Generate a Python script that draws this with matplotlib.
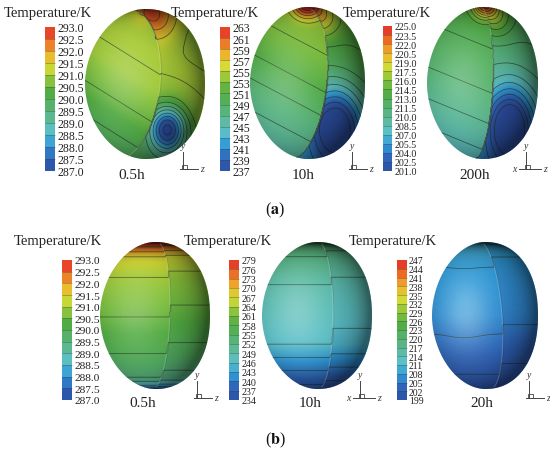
import numpy as np
import matplotlib
matplotlib.use("Agg")
import matplotlib.pyplot as plt
from matplotlib.colors import LinearSegmentedColormap, ListedColormap, BoundaryNorm, Normalize
from matplotlib.patches import Polygon
from matplotlib.cm import ScalarMappable

plt.rcParams['font.family'] = ['Liberation Serif', 'DejaVu Serif']
plt.rcParams['mathtext.fontset'] = 'stix'

# ---------------- data ----------------
TITLE = "Temperature/K"
TIMES_A = ["0.5h", "10h", "200h"]
TIMES_B = ["0.5h", "10h", "20h"]

LEVELS_A1 = [287.0, 287.5, 288.0, 288.5, 289.0, 289.5, 290.0, 290.5, 291.0, 291.5, 292.0, 292.5, 293.0]
LEVELS_A2 = [237, 239, 241, 243, 245, 247, 249, 251, 253, 255, 257, 259, 261, 263]
LEVELS_A3 = [201.0, 202.5, 204.0, 205.5, 207.0, 208.5, 210.0, 211.5, 213.0, 214.5, 216.0, 217.5, 219.0,
             220.5, 222.0, 223.5, 225.0]
LEVELS_B1 = [287.0, 287.5, 288.0, 288.5, 289.0, 289.5, 290.0, 290.5, 291.0, 291.5, 292.0, 292.5, 293.0]
LEVELS_B2 = [234, 237, 240, 243, 246, 249, 252, 255, 258, 261, 264, 267, 270, 273, 276, 279]
LEVELS_B3 = [199, 202, 205, 208, 211, 214, 217, 220, 223, 226, 229, 232, 235, 238, 241, 244, 247]

# estimated temperature profiles along the vertical (top -> bottom) of each body
VK_A1 = [-1.0, -0.5, 0.0, 0.5, 1.0]
TK_A1 = [290.9, 291.05, 290.95, 290.45, 289.9]
VK_A2 = [-1.0, -0.5, 0.0, 0.5, 1.0]
TK_A2 = [254.0, 253.0, 251.0, 248.0, 246.0]
VK_A3 = [-1.0, -0.5, 0.0, 0.5, 1.0]
TK_A3 = [214.0, 213.0, 211.8, 210.0, 208.0]
VK_B1 = [-1.0, -0.8, -0.52, 0.02, 0.52, 0.84, 0.95, 1.0]
TK_B1 = [293.0, 291.5, 291.0, 290.5, 290.0, 289.5, 288.5, 287.5]
VK_B2 = [-1.0, -0.8, -0.42, 0.39, 0.75, 1.0]
TK_B2 = [254.0, 252.0, 249.0, 246.0, 240.0, 236.0]
VK_B3 = [-1.0, -0.66, 0.0, 0.25, 0.8, 1.0]
TK_B3 = [210.0, 208.0, 206.6, 205.0, 202.0, 200.0]

# local hot/cold spots: u, v, amplitude, width u, width v, face (0 all, 1 outer only)
SPOTS_A1 = [(0.2, -0.9, 1.4, 0.35, 0.30, 1), (0.0, -1.0, 0.7, 0.25, 0.2, 0),
            (0.38, 0.6, -3.7, 0.3, 0.3, 1)]
SPOTS_A2 = [(0.0, -1.05, 12.0, 0.25, 0.18, 0), (0.25, -0.85, 5.0, 0.30, 0.25, 1),
            (0.5, 0.55, -13.0, 0.45, 0.5, 1)]
SPOTS_A3 = [(0.05, -1.05, 11.0, 0.22, 0.18, 0), (0.25, -0.85, 4.0, 0.30, 0.25, 1),
            (0.5, 0.55, -11.0, 0.42, 0.5, 1)]
SPOTS_B1 = []
SPOTS_B2 = []
SPOTS_B3 = [(-0.4, -0.05, 0.8, 0.35, 0.35, 0)]

TILT = [-0.5, -0.4, -0.3, 0.0, 0.0, 0.0]
JUMP = [0.0, -2.5, -2.0, -0.15, -0.8, -0.8]
TOPDARK = [0.35, 0.3, 0.3, 0.6, 0.7, 0.7]
GLOW = [0.2, 0.2, 0.2, 0.2, 0.25, 0.32]

CB_COLORS = ['#2c4ea0', '#2f64b8', '#2f9ad8', '#5cc0c8', '#5cba98', '#56b26a', '#52ac42',
             '#8cc43c', '#d6dc34', '#f0b02c', '#ec6a26', '#e42a2a']

base_cmap = LinearSegmentedColormap.from_list('tec', CB_COLORS)

fig = plt.figure(figsize=(5.5, 4.52), dpi=100)
ax = fig.add_axes([0, 0, 1, 1])
ax.set_xlim(0, 550)
ax.set_ylim(452, 0)
ax.axis('off')

W, H = 550.0, 452.0

def make_cmap(levels):
    n = len(levels) - 1
    cols = base_cmap((np.arange(n) + 0.5) / n)
    cm = ListedColormap(cols)
    return cm, BoundaryNorm(levels, n)

def outline(cx, cy, rx, ry, nr=2.2, nl=1.9):
    t1 = np.linspace(-np.pi / 2, np.pi / 2, 90)
    c, s = np.cos(t1), np.sin(t1)
    ur = np.abs(c) ** (2 / nr)
    vr = np.sign(s) * np.abs(s) ** (2 / nr)
    t2 = np.linspace(np.pi / 2, 3 * np.pi / 2, 90)
    c, s = np.cos(t2), np.sin(t2)
    ul = np.sign(c) * np.abs(c) ** (2 / nl)
    vl = np.sign(s) * np.abs(s) ** (2 / nl)
    u = np.concatenate([ur, ul]); v = np.concatenate([vr, vl])
    return np.column_stack([cx + u * rx, cy + v * ry])

def draw_body(box, levels, vk, tk, spots, tilt, jump, seam, topdark, glow):
    x0, y0, x1, y1 = box
    cx, cy = (x0 + x1) / 2, (y0 + y1) / 2
    rx, ry = (x1 - x0) / 2, (y1 - y0) / 2
    vmin, vmax = levels[0], levels[-1]
    uu = np.linspace(-1.05, 1.05, 260)
    vv = np.linspace(-1.05, 1.05, 300)
    U, V = np.meshgrid(uu, vv)
    s0, s1, s2 = seam
    seam_u = s0 + s1 * np.sqrt(np.clip(1 - V ** 2, 0, 1)) + s2 * V
    outer = (U > seam_u).astype(float)
    T = np.interp(V + tilt * U, vk, tk) + jump * outer
    for (su, sv, A, wu, wv, face) in spots:
        g = A * np.exp(-((U - su) ** 2 / wu ** 2 + (V - sv) ** 2 / wv ** 2))
        T = T + (g * outer if face == 1 else g)
    X = cx + U * rx
    Y = cy + V * ry
    ext = (X.min(), X.max(), Y.max(), Y.min())
    poly = Polygon(outline(cx, cy, rx, ry), closed=True, facecolor='none', edgecolor='none')
    ax.add_patch(poly)
    fld = ax.imshow(T, extent=ext, origin='upper', aspect='auto', cmap=base_cmap,
                    norm=Normalize(vmin, vmax), interpolation='bilinear', zorder=2)
    fld.set_clip_path(poly)
    cl = ax.contour(X, Y, T, levels=levels, colors='#223022', linewidths=0.55, alpha=0.7, zorder=2.5)
    cl.set_clip_path(poly)
    # lighting
    R = np.sqrt(((U + 0.25) / 1.2) ** 2 + ((V + 0.05) / 1.1) ** 2)
    dark = 0.45 * np.clip(R, 0, 1) ** 4 + topdark * np.exp(-(V + 1.0) / 0.07) + 0.05 * outer
    dark = np.clip(dark, 0, 0.8)
    rgba = np.zeros(U.shape + (4,))
    rgba[..., 3] = dark
    im = ax.imshow(rgba, extent=ext, origin='upper', aspect='auto', interpolation='bilinear', zorder=3)
    im.set_clip_path(poly)
    hl = np.zeros(U.shape + (4,))
    hl[..., :3] = 1.0
    hl[..., 3] = glow * np.exp(-(((U + 0.35) / 0.45) ** 2 + ((V + 0.05) / 0.5) ** 2))
    im2 = ax.imshow(hl, extent=ext, origin='upper', aspect='auto', interpolation='bilinear', zorder=3)
    im2.set_clip_path(poly)
    vs = np.linspace(-0.97, 0.97, 100)
    us = s0 + s1 * np.sqrt(1 - vs ** 2) + s2 * vs
    ax.plot(cx + us * rx, cy + vs * ry, color='white', lw=0.8, alpha=0.2, zorder=4)
    ax.plot(cx + us * rx + 1.0, cy + vs * ry, color='black', lw=0.5, alpha=0.12, zorder=4)
    ax.set_xlim(0, 550); ax.set_ylim(452, 0)

def draw_cbar(rect, levels, fmt, fs, title_xy):
    x, y, w, h = rect
    cax = fig.add_axes([x / W, 1 - (y + h) / H, w / W, h / H])
    cm, norm = make_cmap(levels)
    sm = ScalarMappable(norm=norm, cmap=cm)
    cb = fig.colorbar(sm, cax=cax, ticks=levels, drawedges=True)
    cb.outline.set_visible(False)
    cb.dividers.set_color('#404040')
    cb.dividers.set_linewidth(0.5)
    cb.dividers.set_alpha(0.5)
    cax.tick_params(length=0, pad=1.5, labelsize=fs, labelcolor='#222222')
    cax.set_yticklabels([fmt.format(l) for l in levels])
    ax.text(title_xy[0], title_xy[1], TITLE, ha='center', va='center', fontsize=10.5, color='#222222')

def triad(x, y, with_x):
    ax.plot([x, x], [y, y - 17], color='#444444', lw=0.7)
    ax.plot([x - (7 if with_x else 3), x + 15], [y, y], color='#444444', lw=0.7)
    ax.add_patch(plt.Rectangle((x - 1, y - 4), 5, 4, fill=False, ec='#444444', lw=0.6))
    ax.text(x, y - 19, 'y', ha='center', va='bottom', fontsize=7, style='italic', color='#333333')
    ax.text(x + 17, y, 'z', ha='left', va='center', fontsize=7, style='italic', color='#333333')
    if with_x:
        ax.text(x - 9, y, 'x', ha='right', va='center', fontsize=7, style='italic', color='#333333')

# row (a)
draw_body((85, 10, 205, 160), LEVELS_A1, VK_A1, TK_A1, SPOTS_A1, TILT[0], JUMP[0], (-0.35, 0.6, -0.1), TOPDARK[0], GLOW[0])
draw_body((250, 8, 365, 160), LEVELS_A2, VK_A2, TK_A2, SPOTS_A2, TILT[1], JUMP[1], (-0.17, 0.51, -0.12), TOPDARK[1], GLOW[1])
draw_body((427, 8, 538, 160), LEVELS_A3, VK_A3, TK_A3, SPOTS_A3, TILT[2], JUMP[2], (-0.1, 0.29, -0.05), TOPDARK[2], GLOW[2])
draw_cbar((45, 28, 10, 144), LEVELS_A1, '{:.1f}', 8.5, (48, 13))
draw_cbar((220, 28, 10, 144), LEVELS_A2, '{:d}', 8.5, (215, 13))
draw_cbar((383, 27, 9, 145), LEVELS_A3, '{:.1f}', 7.2, (387, 13))
for xt, lab in zip([132, 303, 475], TIMES_A):
    ax.text(xt, 176, lab, ha='center', va='center', fontsize=11, color='#222222')
triad(183, 170, False)
triad(352, 170, False)
triad(526, 170, True)
ax.text(275, 210, r'($\mathbf{a}$)', ha='center', va='center', fontsize=11.5, color='#111111')

# row (b)
draw_body((100, 243, 210, 390), LEVELS_B1, VK_B1, TK_B1, SPOTS_B1, TILT[3], JUMP[3], (0.0, 0.27, -0.04), TOPDARK[3], GLOW[3])
draw_body((262, 243, 372, 390), LEVELS_B2, VK_B2, TK_B2, SPOTS_B2, TILT[4], JUMP[4], (0.03, 0.26, 0.0), TOPDARK[4], GLOW[4])
draw_body((432, 243, 538, 390), LEVELS_B3, VK_B3, TK_B3, SPOTS_B3, TILT[5], JUMP[5], (0.0, 0.32, 0.1), TOPDARK[5], GLOW[5])
draw_cbar((62, 261, 10, 140), LEVELS_B1, '{:.1f}', 8.2, (58, 242))
draw_cbar((229, 261, 10, 140), LEVELS_B2, '{:d}', 7.2, (228, 242))
draw_cbar((397, 261, 10, 140), LEVELS_B3, '{:d}', 7.0, (393, 242))
for xt, lab in zip([143, 310, 482], TIMES_B):
    ax.text(xt, 404, lab, ha='center', va='center', fontsize=11, color='#222222')
triad(197, 399, False)
triad(360, 399, True)
triad(529, 399, False)
ax.text(275, 440, r'($\mathbf{b}$)', ha='center', va='center', fontsize=11.5, color='#111111')

fig.savefig('out.png', dpi=100, facecolor='white')
